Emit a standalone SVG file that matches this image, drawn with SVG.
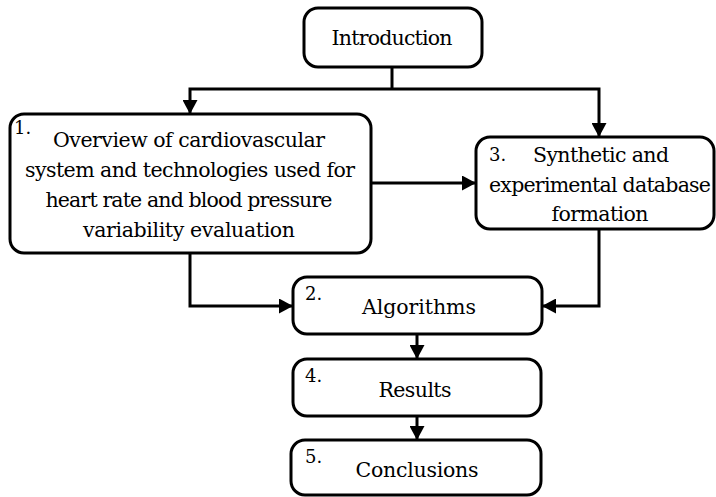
<svg xmlns="http://www.w3.org/2000/svg" width="716" height="497" viewBox="0 0 716 497">
  <style>
    .box { fill: #fff; stroke: #000; stroke-width: 3; }
    .link { fill: none; stroke: #000; stroke-width: 3; }
    .t { font-size: 20.5px; text-anchor: middle; }
    .n { font-size: 18px; }
  </style>
  <defs>
    <marker id="arrow" markerUnits="userSpaceOnUse" markerWidth="14" markerHeight="15" refX="13" refY="7.5" orient="auto">
      <path d="M0,0 L14,7.5 L0,15 z" fill="#000"/>
    </marker>
  </defs>

  <g id="connectors">
    <path class="link" d="M392,67 V89"/>
    <path class="link" d="M392,89 H190 V113" marker-end="url(#arrow)"/>
    <path class="link" d="M392,89 H599 V136" marker-end="url(#arrow)"/>
    <path class="link" d="M371,183 H475" marker-end="url(#arrow)"/>
    <path class="link" d="M190,253 V306 H292" marker-end="url(#arrow)"/>
    <path class="link" d="M599,229 V306 H543" marker-end="url(#arrow)"/>
    <path class="link" d="M417,334 V358" marker-end="url(#arrow)"/>
    <path class="link" d="M417,416 V439" marker-end="url(#arrow)"/>
  </g>

  <g font-family="'DejaVu Serif', 'Liberation Serif', serif" fill="#000">
    <g id="introduction">
      <rect class="box" x="304" y="8" width="178" height="59" rx="14"/>
      <text class="t" x="392" y="45" textLength="121" lengthAdjust="spacing">Introduction</text>
    </g>

    <g id="overview">
      <rect class="box" x="10" y="114" width="361" height="139" rx="14"/>
      <text class="n" x="14" y="134">1.</text>
      <text class="t" x="189" y="147" textLength="272" lengthAdjust="spacing">Overview of cardiovascular</text>
      <text class="t" x="190" y="177" textLength="330" lengthAdjust="spacing">system and technologies used for</text>
      <text class="t" x="189" y="207" textLength="287" lengthAdjust="spacing">heart rate and blood pressure</text>
      <text class="t" x="189" y="237" textLength="212" lengthAdjust="spacing">variability evaluation</text>
    </g>

    <g id="database">
      <rect class="box" x="476" y="137" width="238" height="92" rx="14"/>
      <text class="n" x="489" y="161">3.</text>
      <text class="t" x="601" y="162" textLength="136" lengthAdjust="spacing">Synthetic and</text>
      <text class="t" x="600" y="192" textLength="222" lengthAdjust="spacing">experimental database</text>
      <text class="t" x="600" y="221" textLength="97" lengthAdjust="spacing">formation</text>
    </g>

    <g id="algorithms">
      <rect class="box" x="293" y="277" width="249" height="57" rx="14"/>
      <text class="n" x="305" y="300">2.</text>
      <text class="t" x="419" y="314" textLength="114" lengthAdjust="spacing">Algorithms</text>
    </g>

    <g id="results">
      <rect class="box" x="293" y="359" width="248" height="57" rx="14"/>
      <text class="n" x="305" y="382">4.</text>
      <text class="t" x="415" y="397" textLength="73" lengthAdjust="spacing">Results</text>
    </g>

    <g id="conclusions">
      <rect class="box" x="291" y="440" width="250" height="55" rx="14"/>
      <text class="n" x="305" y="463">5.</text>
      <text class="t" x="417" y="477" textLength="123" lengthAdjust="spacing">Conclusions</text>
    </g>
  </g>
</svg>
